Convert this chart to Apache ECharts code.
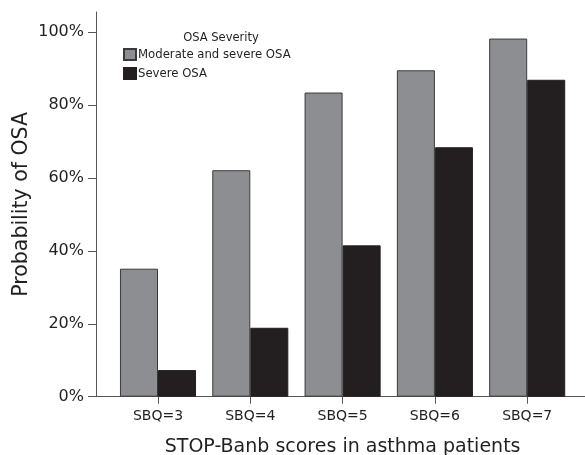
<!DOCTYPE html>
<html>
<head>
<meta charset="utf-8">
<script src="https://cdn.jsdelivr.net/npm/echarts@6/dist/echarts.min.js"></script>
<style>html,body{margin:0;padding:0;background:#fff;}#c{width:585px;height:455px;}</style>
</head>
<body>
<div id="c"></div>
<script>
var categories = ['SBQ=3', 'SBQ=4', 'SBQ=5', 'SBQ=6', 'SBQ=7'];
var moderateSevere = [35.1, 62.1, 83.4, 89.5, 98.2];
var severe = [7.3, 18.9, 41.5, 68.4, 86.9];
var seriesNames = ['Moderate and severe OSA', 'Severe OSA'];
var yTicks = [0, 20, 40, 60, 80, 100];

var FONT = 'DejaVu Sans';
var TXT = '#231f20';
var chart = echarts.init(document.getElementById('c'));
chart.setOption({
  animation: false,
  backgroundColor: '#fff',
  title: {
    text: 'OSA Severity',
    left: 216, top: 27,
    textAlign: 'center',
    textStyle: {fontFamily: FONT, fontSize: 11.5, fontWeight: 'normal', color: TXT}
  },
  legend: {
    orient: 'vertical',
    left: 123, top: 48,
    icon: 'rect',
    itemWidth: 12, itemHeight: 11, itemGap: 6,
    padding: 0,
    textStyle: {fontFamily: FONT, fontSize: 11.7, color: TXT, padding: [0, 0, 0, -3]},
    data: seriesNames
  },
  grid: [
    {left: 111.85, right: 11.65, top: 32, bottom: 58.3, outerBoundsMode: 'none'},
    {left: 96, right: 0, top: 12, bottom: 58.3, outerBoundsMode: 'none'}
  ],
  xAxis: [
    {
      type: 'category', gridIndex: 0, data: categories,
      axisLine: {show: false},
      axisTick: {show: true, alignWithLabel: true, length: 7, lineStyle: {color: '#555'}},
      axisLabel: {fontFamily: FONT, fontSize: 14, color: TXT, margin: 13},
      name: 'STOP-Banb scores in asthma patients',
      nameLocation: 'middle', nameGap: 41,
      nameTextStyle: {fontFamily: FONT, fontSize: 19, color: TXT}
    },
    {
      type: 'value', gridIndex: 1, min: 0, max: 1,
      axisLine: {show: true, lineStyle: {color: '#555', width: 1}},
      axisTick: {show: false}, axisLabel: {show: false}, splitLine: {show: false}
    }
  ],
  yAxis: [
    {
      type: 'value', gridIndex: 0, min: yTicks[0], max: yTicks[yTicks.length - 1], interval: 20,
      offset: 15.85,
      axisLine: {show: false},
      axisTick: {show: true, length: 8, lineStyle: {color: '#555'}},
      axisLabel: {fontFamily: FONT, fontSize: 16, color: TXT, margin: 12, formatter: '{value}%'},
      splitLine: {show: false}
    },
    {
      type: 'value', gridIndex: 1, min: 0, max: 1,
      axisLine: {show: true, lineStyle: {color: '#555', width: 1}},
      axisTick: {show: false}, axisLabel: {show: false}, splitLine: {show: false},
      name: 'Probability of OSA', nameLocation: 'middle', nameGap: 64, nameRotate: 90,
      nameTextStyle: {fontFamily: FONT, fontSize: 20.5, color: TXT}
    }
  ],
  series: [
    {
      name: seriesNames[0], type: 'bar', xAxisIndex: 0, yAxisIndex: 0,
      data: moderateSevere, barGap: '0%', barCategoryGap: '17.6%',
      itemStyle: {color: '#8d8e91', borderColor: '#3a3a3a', borderWidth: 1}
    },
    {
      name: seriesNames[1], type: 'bar', xAxisIndex: 0, yAxisIndex: 0,
      data: severe, barGap: '0%', barCategoryGap: '17.6%',
      itemStyle: {color: '#231f20', borderColor: '#231f20', borderWidth: 1}
    }
  ]
});
</script>
</body>
</html>
